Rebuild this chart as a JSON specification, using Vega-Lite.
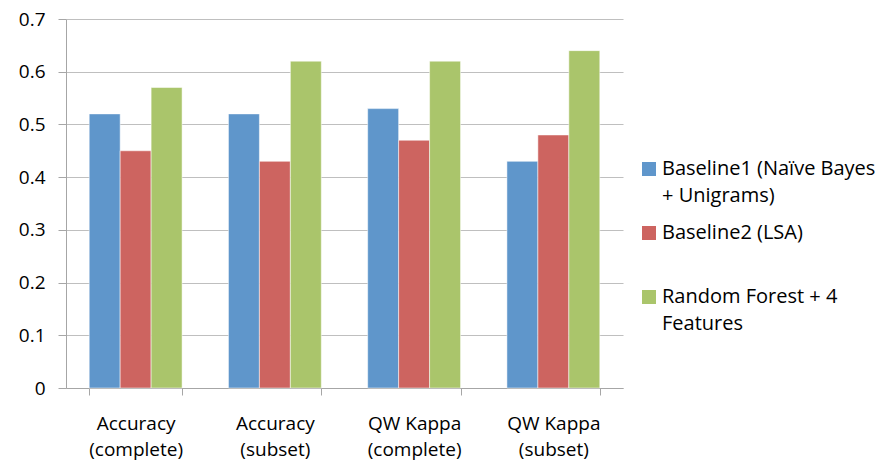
{
  "$schema": "https://vega.github.io/schema/vega-lite/v6.json",
  "width": 557,
  "height": 369,
  "autosize": "none",
  "padding": {"left": 66, "top": 19, "right": 266, "bottom": 74},
  "background": "#ffffff",
  "config": {
    "font": "Open Sans",
    "view": {"stroke": null},
    "style": {"guide-label": {"lineHeight": 27}}
  },
  "data": {
    "values": [
      {"category": "Accuracy|(complete)", "series": "Baseline1 (Naïve Bayes|+ Unigrams)", "value": 0.52},
      {"category": "Accuracy|(complete)", "series": "Baseline2 (LSA)", "value": 0.45},
      {"category": "Accuracy|(complete)", "series": "Random Forest + 4|Features", "value": 0.57},
      {"category": "Accuracy|(subset)", "series": "Baseline1 (Naïve Bayes|+ Unigrams)", "value": 0.52},
      {"category": "Accuracy|(subset)", "series": "Baseline2 (LSA)", "value": 0.43},
      {"category": "Accuracy|(subset)", "series": "Random Forest + 4|Features", "value": 0.62},
      {"category": "QW Kappa|(complete)", "series": "Baseline1 (Naïve Bayes|+ Unigrams)", "value": 0.53},
      {"category": "QW Kappa|(complete)", "series": "Baseline2 (LSA)", "value": 0.47},
      {"category": "QW Kappa|(complete)", "series": "Random Forest + 4|Features", "value": 0.62},
      {"category": "QW Kappa|(subset)", "series": "Baseline1 (Naïve Bayes|+ Unigrams)", "value": 0.43},
      {"category": "QW Kappa|(subset)", "series": "Baseline2 (LSA)", "value": 0.48},
      {"category": "QW Kappa|(subset)", "series": "Random Forest + 4|Features", "value": 0.64}
    ]
  },
  "mark": {"type": "bar", "stroke": "#ffffff", "strokeOpacity": 0.5, "strokeWidth": 1},
  "encoding": {
    "x": {
      "field": "category",
      "type": "nominal",
      "sort": null,
      "scale": {"paddingInner": 0.333, "paddingOuter": 0.1667},
      "axis": {
        "title": null,
        "labelAngle": 0,
        "labelExpr": "split(datum.label, '|')",
        "labelFontSize": 19,
        "labelColor": "#000000",
        "labelPadding": 19,
        "labelLineHeight": 26,
        "labelBaseline": "top",
        "domainColor": "#a6a6a6",
        "tickColor": "#a6a6a6",
        "tickSize": 7,
        "tickBand": "extent",
        "grid": false
      }
    },
    "xOffset": {"field": "series", "type": "nominal", "sort": null},
    "y": {
      "field": "value",
      "type": "quantitative",
      "scale": {"domain": [0, 0.7], "nice": false},
      "axis": {
        "title": null,
        "values": [0, 0.1, 0.2, 0.3, 0.4, 0.5, 0.6, 0.7],
        "labelExpr": "datum.value == 0 ? '0' : format(datum.value, '.1f')",
        "labelFontSize": 19,
        "labelColor": "#000000",
        "labelPadding": 13,
        "tickSize": 8,
        "tickColor": "#a6a6a6",
        "domainColor": "#a6a6a6",
        "gridColor": "#bfbfbf",
        "gridWidth": 1
      }
    },
    "color": {
      "field": "series",
      "type": "nominal",
      "sort": null,
      "scale": {
        "domain": ["Baseline1 (Naïve Bayes|+ Unigrams)", "Baseline2 (LSA)", "Random Forest + 4|Features"],
        "range": ["#5F96CB", "#CD6460", "#AAC56B"]
      },
      "legend": {
        "title": null,
        "orient": "none",
        "legendX": 573,
        "legendY": 140,
        "symbolType": "square",
        "symbolSize": 196,
        "symbolOpacity": 1,
        "symbolStrokeWidth": 0,
        "labelExpr": "split(datum.label, '|')",
        "labelFontSize": 20,
        "labelColor": "#000000",
        "labelLimit": 300,
        "labelOffset": 3,
        "gridAlign": "all",
        "rowPadding": 17
      }
    }
  }
}
